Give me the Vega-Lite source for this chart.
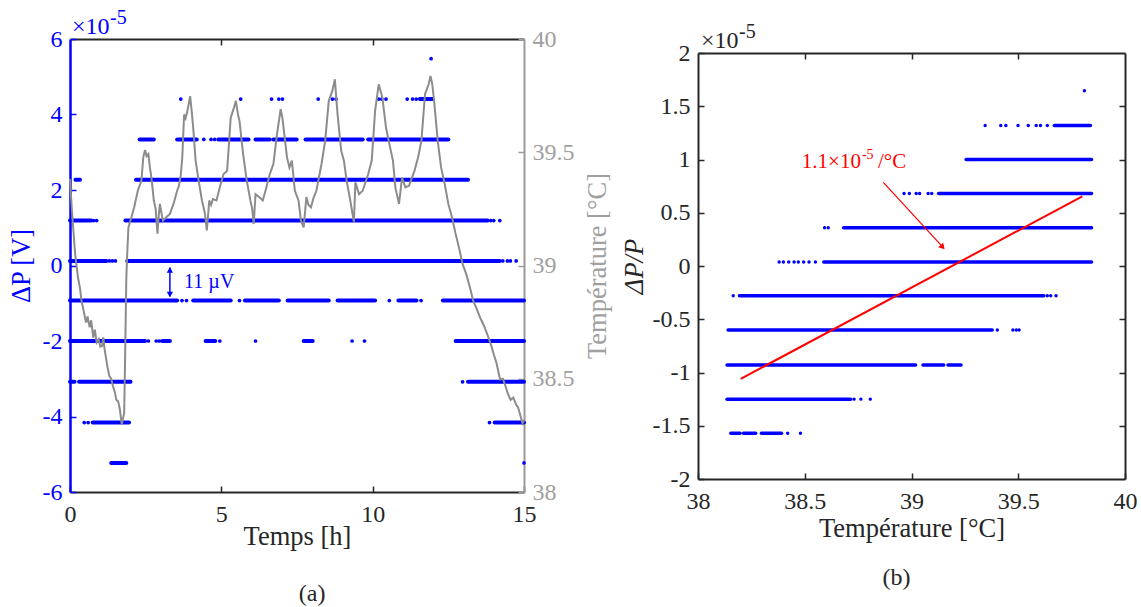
{
  "$schema": "https://vega.github.io/schema/vega-lite/v6.json",
  "background": "white",
  "padding": {"left": 8, "top": 8, "right": 5, "bottom": 5},
  "spacing": 10,
  "datasets": {
    "segA": [
      {"t0": 2.3, "t1": 2.77, "v": 3.34}, {"t0": 3.54, "t1": 4.19, "v": 3.34}, {"t0": 4.9, "t1": 5.45, "v": 3.34}, {"t0": 5.5, "t1": 5.9, "v": 3.34},
      {"t0": 6.13, "t1": 6.6, "v": 3.34}, {"t0": 6.72, "t1": 7.49, "v": 3.34}, {"t0": 7.78, "t1": 9.67, "v": 3.34}, {"t0": 9.85, "t1": 12.5, "v": 3.34},
      {"t0": 0.18, "t1": 0.33, "v": 2.27}, {"t0": 2.18, "t1": 13.15, "v": 2.27},
      {"t0": 0, "t1": 0.7, "v": 1.19}, {"t0": 1.83, "t1": 13.8, "v": 1.19},
      {"t0": 0, "t1": 1.2, "v": 0.12}, {"t0": 1.89, "t1": 14.2, "v": 0.12},
      {"t0": 0, "t1": 3.54, "v": -0.93}, {"t0": 4.07, "t1": 5.31, "v": -0.93}, {"t0": 5.78, "t1": 6.9, "v": -0.93}, {"t0": 7.19, "t1": 8.55, "v": -0.93},
      {"t0": 8.84, "t1": 10.08, "v": -0.93}, {"t0": 10.85, "t1": 11.45, "v": -0.93}, {"t0": 12.32, "t1": 15, "v": -0.93},
      {"t0": 0, "t1": 2.48, "v": -2.0}, {"t0": 3.05, "t1": 3.3, "v": -2.0}, {"t0": 4.48, "t1": 4.8, "v": -2.0}, {"t0": 7.72, "t1": 8.02, "v": -2.0}, {"t0": 12.74, "t1": 15, "v": -2.0},
      {"t0": 0, "t1": 0.15, "v": -3.08}, {"t0": 0.3, "t1": 2.0, "v": -3.08}, {"t0": 13.15, "t1": 15, "v": -3.08},
      {"t0": 0.75, "t1": 1.95, "v": -4.16}, {"t0": 14.03, "t1": 15, "v": -4.16},
      {"t0": 1.36, "t1": 1.86, "v": -5.23},
      {"t0": 11.56, "t1": 11.97, "v": 4.41}
    ],
    "dotA": [
      {"t": 3.66, "v": 4.41}, {"t": 5.64, "v": 4.41}, {"t": 6.66, "v": 4.41}, {"t": 6.9, "v": 4.41}, {"t": 7.02, "v": 4.41}, {"t": 8.2, "v": 4.41},
      {"t": 8.67, "v": 4.41}, {"t": 8.79, "v": 4.41}, {"t": 10.2, "v": 4.41}, {"t": 10.3, "v": 4.41}, {"t": 10.44, "v": 4.41}, {"t": 11.14, "v": 4.41},
      {"t": 11.32, "v": 4.41}, {"t": 11.44, "v": 4.41},
      {"t": 11.93, "v": 5.48},
      {"t": 4.42, "v": 3.34}, {"t": 4.66, "v": 3.34}, {"t": 4.78, "v": 3.34},
      {"t": 0.78, "v": 1.19}, {"t": 0.88, "v": 1.19}, {"t": 13.9, "v": 1.19}, {"t": 14.0, "v": 1.19}, {"t": 14.2, "v": 1.19},
      {"t": 1.3, "v": 0.12}, {"t": 1.4, "v": 0.12}, {"t": 1.5, "v": 0.12}, {"t": 14.3, "v": 0.12}, {"t": 14.45, "v": 0.12}, {"t": 14.55, "v": 0.12}, {"t": 14.74, "v": 0.12},
      {"t": 3.7, "v": -0.93}, {"t": 3.85, "v": -0.93}, {"t": 5.6, "v": -0.93}, {"t": 10.55, "v": -0.93}, {"t": 11.6, "v": -0.93},
      {"t": 2.59, "v": -2.0}, {"t": 2.85, "v": -2.0}, {"t": 2.95, "v": -2.0}, {"t": 4.95, "v": -2.0}, {"t": 6.13, "v": -2.0}, {"t": 9.32, "v": -2.0}, {"t": 9.73, "v": -2.0},
      {"t": 12.97, "v": -3.08},
      {"t": 0.47, "v": -4.16}, {"t": 0.6, "v": -4.16}, {"t": 13.86, "v": -4.16},
      {"t": 15, "v": -5.23}
    ],
    "tempA": [
      {"t": 0.0, "T": 39.382}, {"t": 0.06, "T": 39.25}, {"t": 0.12, "T": 39.14}, {"t": 0.17, "T": 39.05}, {"t": 0.21, "T": 39.007},
      {"t": 0.26, "T": 38.95}, {"t": 0.33, "T": 38.9}, {"t": 0.38, "T": 38.845}, {"t": 0.45, "T": 38.8}, {"t": 0.53, "T": 38.748},
      {"t": 0.58, "T": 38.775}, {"t": 0.65, "T": 38.727}, {"t": 0.7, "T": 38.758}, {"t": 0.77, "T": 38.682}, {"t": 0.82, "T": 38.717},
      {"t": 0.88, "T": 38.66}, {"t": 0.95, "T": 38.675}, {"t": 1.0, "T": 38.642}, {"t": 1.06, "T": 38.645}, {"t": 1.1, "T": 38.683},
      {"t": 1.14, "T": 38.633}, {"t": 1.18, "T": 38.6}, {"t": 1.24, "T": 38.55}, {"t": 1.3, "T": 38.512}, {"t": 1.36, "T": 38.5},
      {"t": 1.42, "T": 38.467}, {"t": 1.48, "T": 38.442}, {"t": 1.53, "T": 38.407}, {"t": 1.59, "T": 38.4}, {"t": 1.65, "T": 38.363},
      {"t": 1.71, "T": 38.297}, {"t": 1.75, "T": 38.325}, {"t": 1.79, "T": 38.348}, {"t": 1.82, "T": 38.583}, {"t": 1.86, "T": 38.94},
      {"t": 1.89, "T": 39.05}, {"t": 1.93, "T": 39.168}, {"t": 2.03, "T": 39.213}, {"t": 2.12, "T": 39.257}, {"t": 2.24, "T": 39.33},
      {"t": 2.36, "T": 39.375}, {"t": 2.42, "T": 39.477}, {"t": 2.48, "T": 39.51}, {"t": 2.53, "T": 39.483}, {"t": 2.59, "T": 39.492},
      {"t": 2.64, "T": 39.433}, {"t": 2.69, "T": 39.388}, {"t": 2.77, "T": 39.287}, {"t": 2.83, "T": 39.25}, {"t": 2.89, "T": 39.14},
      {"t": 2.93, "T": 39.217}, {"t": 2.97, "T": 39.272}, {"t": 3.02, "T": 39.233}, {"t": 3.07, "T": 39.198}, {"t": 3.18, "T": 39.213},
      {"t": 3.3, "T": 39.228}, {"t": 3.42, "T": 39.272}, {"t": 3.54, "T": 39.33}, {"t": 3.6, "T": 39.352}, {"t": 3.66, "T": 39.4},
      {"t": 3.71, "T": 39.477}, {"t": 3.77, "T": 39.667}, {"t": 3.82, "T": 39.65}, {"t": 3.88, "T": 39.683}, {"t": 3.97, "T": 39.748},
      {"t": 4.02, "T": 39.683}, {"t": 4.07, "T": 39.61}, {"t": 4.15, "T": 39.463}, {"t": 4.25, "T": 39.375}, {"t": 4.36, "T": 39.287},
      {"t": 4.46, "T": 39.228}, {"t": 4.52, "T": 39.155}, {"t": 4.56, "T": 39.217}, {"t": 4.6, "T": 39.287}, {"t": 4.66, "T": 39.267},
      {"t": 4.72, "T": 39.293}, {"t": 4.84, "T": 39.287}, {"t": 4.95, "T": 39.345}, {"t": 5.07, "T": 39.403}, {"t": 5.19, "T": 39.418},
      {"t": 5.25, "T": 39.533}, {"t": 5.31, "T": 39.653}, {"t": 5.42, "T": 39.698}, {"t": 5.48, "T": 39.727}, {"t": 5.55, "T": 39.667},
      {"t": 5.6, "T": 39.638}, {"t": 5.72, "T": 39.492}, {"t": 5.84, "T": 39.375}, {"t": 5.96, "T": 39.287}, {"t": 6.02, "T": 39.25},
      {"t": 6.07, "T": 39.183}, {"t": 6.13, "T": 39.315}, {"t": 6.25, "T": 39.302}, {"t": 6.37, "T": 39.287}, {"t": 6.49, "T": 39.345},
      {"t": 6.6, "T": 39.403}, {"t": 6.72, "T": 39.448}, {"t": 6.84, "T": 39.58}, {"t": 6.96, "T": 39.69}, {"t": 7.02, "T": 39.65},
      {"t": 7.08, "T": 39.58}, {"t": 7.17, "T": 39.477}, {"t": 7.25, "T": 39.433}, {"t": 7.33, "T": 39.463}, {"t": 7.43, "T": 39.33},
      {"t": 7.55, "T": 39.287}, {"t": 7.63, "T": 39.198}, {"t": 7.72, "T": 39.168}, {"t": 7.81, "T": 39.302}, {"t": 7.88, "T": 39.267},
      {"t": 7.96, "T": 39.257}, {"t": 8.05, "T": 39.3}, {"t": 8.14, "T": 39.33}, {"t": 8.31, "T": 39.448}, {"t": 8.43, "T": 39.55},
      {"t": 8.55, "T": 39.727}, {"t": 8.67, "T": 39.772}, {"t": 8.75, "T": 39.822}, {"t": 8.84, "T": 39.667}, {"t": 8.96, "T": 39.507},
      {"t": 9.05, "T": 39.463}, {"t": 9.14, "T": 39.375}, {"t": 9.26, "T": 39.287}, {"t": 9.38, "T": 39.192}, {"t": 9.43, "T": 39.367},
      {"t": 9.55, "T": 39.315}, {"t": 9.67, "T": 39.33}, {"t": 9.85, "T": 39.403}, {"t": 9.97, "T": 39.463}, {"t": 10.08, "T": 39.683},
      {"t": 10.2, "T": 39.8}, {"t": 10.32, "T": 39.742}, {"t": 10.44, "T": 39.61}, {"t": 10.55, "T": 39.537}, {"t": 10.67, "T": 39.463},
      {"t": 10.75, "T": 39.345}, {"t": 10.87, "T": 39.272}, {"t": 10.97, "T": 39.388}, {"t": 11.08, "T": 39.345}, {"t": 11.2, "T": 39.352},
      {"t": 11.38, "T": 39.418}, {"t": 11.5, "T": 39.477}, {"t": 11.61, "T": 39.55}, {"t": 11.73, "T": 39.757}, {"t": 11.85, "T": 39.8},
      {"t": 11.91, "T": 39.837}, {"t": 11.97, "T": 39.8}, {"t": 12.03, "T": 39.727}, {"t": 12.15, "T": 39.55}, {"t": 12.26, "T": 39.433},
      {"t": 12.38, "T": 39.36}, {"t": 12.5, "T": 39.272}, {"t": 12.62, "T": 39.213}, {"t": 12.74, "T": 39.14}, {"t": 12.85, "T": 39.08},
      {"t": 12.97, "T": 39.007}, {"t": 13.09, "T": 38.963}, {"t": 13.21, "T": 38.905}, {"t": 13.32, "T": 38.845}, {"t": 13.44, "T": 38.807},
      {"t": 13.56, "T": 38.767}, {"t": 13.68, "T": 38.733}, {"t": 13.8, "T": 38.692}, {"t": 13.92, "T": 38.645}, {"t": 14.0, "T": 38.608},
      {"t": 14.09, "T": 38.57}, {"t": 14.15, "T": 38.533}, {"t": 14.21, "T": 38.497}, {"t": 14.3, "T": 38.5}, {"t": 14.39, "T": 38.467},
      {"t": 14.47, "T": 38.433}, {"t": 14.56, "T": 38.407}, {"t": 14.65, "T": 38.417}, {"t": 14.74, "T": 38.385}, {"t": 14.8, "T": 38.375},
      {"t": 14.86, "T": 38.348}, {"t": 14.95, "T": 38.303}, {"t": 15.0, "T": 38.317}
    ],
    "segB": [
      {"T0": 39.669, "T1": 39.838, "p": 1.32},
      {"T0": 39.256, "T1": 39.843, "p": 1.0},
      {"T0": 39.127, "T1": 39.843, "p": 0.68},
      {"T0": 38.682, "T1": 39.843, "p": 0.36},
      {"T0": 38.589, "T1": 39.843, "p": 0.037},
      {"T0": 38.194, "T1": 39.62, "p": -0.28},
      {"T0": 38.141, "T1": 39.378, "p": -0.6},
      {"T0": 38.136, "T1": 39.019, "p": -0.93}, {"T0": 39.054, "T1": 39.151, "p": -0.93}, {"T0": 39.171, "T1": 39.232, "p": -0.93},
      {"T0": 38.136, "T1": 38.715, "p": -1.25},
      {"T0": 38.154, "T1": 38.197, "p": -1.57}, {"T0": 38.213, "T1": 38.27, "p": -1.57}, {"T0": 38.297, "T1": 38.391, "p": -1.57}
    ],
    "dotB": [
      {"T": 39.81, "p": 1.645},
      {"T": 39.345, "p": 1.32}, {"T": 39.418, "p": 1.32}, {"T": 39.442, "p": 1.32}, {"T": 39.499, "p": 1.32}, {"T": 39.547, "p": 1.32}, {"T": 39.584, "p": 1.32}, {"T": 39.604, "p": 1.32}, {"T": 39.636, "p": 1.32},
      {"T": 38.965, "p": 0.68}, {"T": 38.99, "p": 0.68}, {"T": 39.022, "p": 0.68}, {"T": 39.038, "p": 0.68}, {"T": 39.078, "p": 0.68}, {"T": 39.095, "p": 0.68},
      {"T": 38.593, "p": 0.36}, {"T": 38.61, "p": 0.36},
      {"T": 38.38, "p": 0.037}, {"T": 38.4, "p": 0.037}, {"T": 38.425, "p": 0.037}, {"T": 38.45, "p": 0.037}, {"T": 38.47, "p": 0.037}, {"T": 38.495, "p": 0.037}, {"T": 38.52, "p": 0.037}, {"T": 38.55, "p": 0.037},
      {"T": 38.165, "p": -0.28}, {"T": 39.636, "p": -0.28}, {"T": 39.652, "p": -0.28}, {"T": 39.677, "p": -0.28},
      {"T": 39.402, "p": -0.6}, {"T": 39.475, "p": -0.6}, {"T": 39.491, "p": -0.6}, {"T": 39.504, "p": -0.6},
      {"T": 38.731, "p": -1.25}, {"T": 38.763, "p": -1.25}, {"T": 38.807, "p": -1.25},
      {"T": 38.42, "p": -1.57}, {"T": 38.48, "p": -1.57}
    ],
    "fitB": [{"T": 38.2, "p": -1.06}, {"T": 39.8, "p": 0.654}]
  },
  "hconcat": [
    {
      "width": 454,
      "height": 453,
      "resolve": {"scale": {"y": "independent"}, "axis": {"x": "independent", "y": "independent"}},
      "layer": [
        {
          "data": {"name": "segA"},
          "mark": {"type": "rule", "color": "#0000ff", "strokeWidth": 4, "strokeCap": "round"},
          "encoding": {
            "x": {"field": "t0", "type": "quantitative", "scale": {"domain": [0, 15], "nice": false},
              "axis": {"orient": "bottom", "values": [0, 5, 10, 15], "title": "Temps [h]", "labelPadding": 16, "titlePadding": -3}},
            "x2": {"field": "t1"},
            "y": {"field": "v", "type": "quantitative", "scale": {"domain": [-6, 6], "nice": false},
              "axis": {"orient": "left", "values": [-6, -4, -2, 0, 2, 4, 6], "title": "ΔP [V]", "labelColor": "#0000ff", "titleColor": "#0000ff", "domainColor": "#0000ff", "tickColor": "#0000ff", "domainWidth": 2.5, "titlePadding": 7}}
          }
        },
        {
          "data": {"name": "dotA"},
          "mark": {"type": "circle", "color": "#0000ff", "size": 14, "opacity": 1},
          "encoding": {
            "x": {"field": "t", "type": "quantitative", "scale": {"domain": [0, 15], "nice": false},
              "axis": {"orient": "top", "values": [5, 10], "labels": false, "title": null}},
            "y": {"field": "v", "type": "quantitative", "scale": {"domain": [-6, 6], "nice": false}, "axis": null}
          }
        },
        {
          "data": {"values": [{}]},
          "mark": {"type": "rule", "color": "#0000ff", "strokeWidth": 1.5},
          "encoding": {
            "x": {"datum": 3.3, "type": "quantitative", "axis": null},
            "y": {"datum": -0.05, "type": "quantitative", "scale": {"domain": [-6, 6], "nice": false}, "axis": null},
            "y2": {"datum": -0.82}
          }
        },
        {
          "data": {"values": [{}]},
          "mark": {"type": "point", "shape": "triangle-up", "filled": true, "color": "#0000ff", "size": 40, "opacity": 1},
          "encoding": {
            "x": {"datum": 3.3, "type": "quantitative", "axis": null},
            "y": {"datum": -0.12, "type": "quantitative", "scale": {"domain": [-6, 6], "nice": false}, "axis": null}
          }
        },
        {
          "data": {"values": [{}]},
          "mark": {"type": "point", "shape": "triangle-down", "filled": true, "color": "#0000ff", "size": 40, "opacity": 1},
          "encoding": {
            "x": {"datum": 3.3, "type": "quantitative", "axis": null},
            "y": {"datum": -0.77, "type": "quantitative", "scale": {"domain": [-6, 6], "nice": false}, "axis": null}
          }
        },
        {
          "data": {"values": [{}]},
          "mark": {"type": "text", "text": "11 µV", "align": "left", "baseline": "middle", "fontSize": 20, "color": "#0000ff", "font": "Liberation Serif"},
          "encoding": {
            "x": {"datum": 3.77, "type": "quantitative", "axis": null},
            "y": {"datum": -0.45, "type": "quantitative", "scale": {"domain": [-6, 6], "nice": false}, "axis": null}
          }
        },
        {
          "data": {"values": [{}]},
          "mark": {"type": "text", "text": "×10", "align": "left", "baseline": "alphabetic", "dx": 2, "dy": -5, "fontSize": 24, "color": "#0000ff", "font": "Liberation Serif"},
          "encoding": {
            "x": {"datum": 0, "type": "quantitative", "axis": null},
            "y": {"datum": 6, "type": "quantitative", "scale": {"domain": [-6, 6], "nice": false}, "axis": null}
          }
        },
        {
          "data": {"values": [{}]},
          "mark": {"type": "text", "text": "-5", "align": "left", "baseline": "alphabetic", "dx": 40, "dy": -15, "fontSize": 20, "color": "#0000ff", "font": "Liberation Serif"},
          "encoding": {
            "x": {"datum": 0, "type": "quantitative", "axis": null},
            "y": {"datum": 6, "type": "quantitative", "scale": {"domain": [-6, 6], "nice": false}, "axis": null}
          }
        },
        {
          "data": {"values": [{}]},
          "mark": {"type": "text", "text": "(a)", "align": "center", "baseline": "middle", "dy": 102, "fontSize": 24, "color": "#262626", "font": "Liberation Serif"},
          "encoding": {
            "x": {"datum": 8.0, "type": "quantitative", "axis": null},
            "y": {"datum": -6, "type": "quantitative", "scale": {"domain": [-6, 6], "nice": false}, "axis": null}
          }
        },
        {
          "data": {"name": "tempA"},
          "mark": {"type": "line", "color": "#8c8c8c", "strokeWidth": 2},
          "encoding": {
            "x": {"field": "t", "type": "quantitative", "axis": null},
            "y": {"field": "T", "type": "quantitative", "scale": {"domain": [38, 40], "nice": false},
              "axis": {"orient": "right", "values": [38, 38.5, 39, 39.5, 40], "title": "Température [°C]", "titleAngle": 270, "titleBaseline": "top",
                "labelColor": "#a0a0a0", "titleColor": "#a0a0a0", "domainColor": "#999999", "tickColor": "#999999", "titlePadding": 10}}
          }
        }
      ]
    },
    {
      "width": 427,
      "height": 440,
      "resolve": {"axis": {"x": "independent", "y": "independent"}},
      "layer": [
        {
          "data": {"name": "segB"},
          "mark": {"type": "rule", "color": "#0000ff", "strokeWidth": 3.5, "strokeCap": "round"},
          "encoding": {
            "x": {"field": "T0", "type": "quantitative", "scale": {"domain": [38, 40], "nice": false},
              "axis": {"orient": "bottom", "values": [38, 38.5, 39, 39.5, 40], "title": "Température [°C]", "labelPadding": 16, "titlePadding": 2}},
            "x2": {"field": "T1"},
            "y": {"field": "p", "type": "quantitative", "scale": {"domain": [-2, 2], "nice": false, "range": [440, 14]},
              "axis": {"orient": "left", "values": [-2, -1.5, -1, -0.5, 0, 0.5, 1, 1.5, 2], "title": "ΔP/P", "titleFontStyle": "italic", "titlePadding": 4}}
          }
        },
        {
          "data": {"name": "dotB"},
          "mark": {"type": "circle", "color": "#0000ff", "size": 12, "opacity": 1},
          "encoding": {
            "x": {"field": "T", "type": "quantitative", "axis": {"orient": "top", "offset": -14, "values": [38.5, 39, 39.5], "labels": false, "title": null}},
            "y": {"field": "p", "type": "quantitative", "axis": {"orient": "right", "values": [-1.5, -1, -0.5, 0, 0.5, 1, 1.5], "labels": false, "title": null}}
          }
        },
        {
          "data": {"name": "fitB"},
          "mark": {"type": "line", "color": "#ff0000", "strokeWidth": 2},
          "encoding": {
            "x": {"field": "T", "type": "quantitative", "axis": null},
            "y": {"field": "p", "type": "quantitative", "axis": null}
          }
        },
        {
          "data": {"values": [{}]},
          "mark": {"type": "rule", "color": "#ff0000", "strokeWidth": 1.2},
          "encoding": {
            "x": {"datum": 38.868, "type": "quantitative", "axis": null},
            "y": {"datum": 0.785, "type": "quantitative", "axis": null},
            "x2": {"datum": 39.15},
            "y2": {"datum": 0.17}
          }
        },
        {
          "data": {"values": [{}]},
          "mark": {"type": "point", "shape": "triangle-up", "filled": true, "color": "#ff0000", "size": 45, "opacity": 1, "angle": 137.5},
          "encoding": {
            "x": {"datum": 39.146, "type": "quantitative", "axis": null},
            "y": {"datum": 0.178, "type": "quantitative", "axis": null}
          }
        },
        {
          "data": {"values": [{}]},
          "mark": {"type": "text", "text": "1.1×10", "align": "right", "baseline": "alphabetic", "fontSize": 21, "color": "#ff0000", "font": "Liberation Serif"},
          "encoding": {
            "x": {"datum": 38.763, "type": "quantitative", "axis": null},
            "y": {"datum": 0.92, "type": "quantitative", "axis": null}
          }
        },
        {
          "data": {"values": [{}]},
          "mark": {"type": "text", "text": "-5", "align": "left", "baseline": "alphabetic", "dx": 1, "dy": -9, "fontSize": 14, "color": "#ff0000", "font": "Liberation Serif"},
          "encoding": {
            "x": {"datum": 38.763, "type": "quantitative", "axis": null},
            "y": {"datum": 0.92, "type": "quantitative", "axis": null}
          }
        },
        {
          "data": {"values": [{}]},
          "mark": {"type": "text", "text": "/°C", "align": "left", "baseline": "alphabetic", "dx": 17, "fontSize": 21, "color": "#ff0000", "font": "Liberation Serif"},
          "encoding": {
            "x": {"datum": 38.763, "type": "quantitative", "axis": null},
            "y": {"datum": 0.92, "type": "quantitative", "axis": null}
          }
        },
        {
          "data": {"values": [{}]},
          "mark": {"type": "text", "text": "×10", "align": "left", "baseline": "alphabetic", "dx": 3, "dy": -5, "fontSize": 24, "color": "#262626", "font": "Liberation Serif"},
          "encoding": {
            "x": {"datum": 38, "type": "quantitative", "axis": null},
            "y": {"datum": 2, "type": "quantitative", "axis": null}
          }
        },
        {
          "data": {"values": [{}]},
          "mark": {"type": "text", "text": "-5", "align": "left", "baseline": "alphabetic", "dx": 41, "dy": -15, "fontSize": 20, "color": "#262626", "font": "Liberation Serif"},
          "encoding": {
            "x": {"datum": 38, "type": "quantitative", "axis": null},
            "y": {"datum": 2, "type": "quantitative", "axis": null}
          }
        },
        {
          "data": {"values": [{}]},
          "mark": {"type": "text", "text": "(b)", "align": "center", "baseline": "middle", "dy": 99, "fontSize": 24, "color": "#262626", "font": "Liberation Serif"},
          "encoding": {
            "x": {"datum": 38.93, "type": "quantitative", "axis": null},
            "y": {"datum": -2, "type": "quantitative", "axis": null}
          }
        }
      ]
    }
  ],
  "config": {
    "font": "Liberation Serif",
    "view": {"stroke": null},
    "title": {"font": "Liberation Serif"},
    "axis": {
      "labelFont": "Liberation Serif",
      "titleFont": "Liberation Serif",
      "labelFontSize": 24,
      "titleFontSize": 26.5,
      "titleFontWeight": "normal",
      "labelColor": "#262626",
      "titleColor": "#262626",
      "domainColor": "#262626",
      "tickColor": "#262626",
      "domainWidth": 2,
      "tickWidth": 1.5,
      "tickSize": -6,
      "labelPadding": 14,
      "grid": false,
      "labelFlush": false,
      "labelOverlap": false,
      "labelBound": false,
      "labelExpr": "'' + datum.value"
    }
  }
}
